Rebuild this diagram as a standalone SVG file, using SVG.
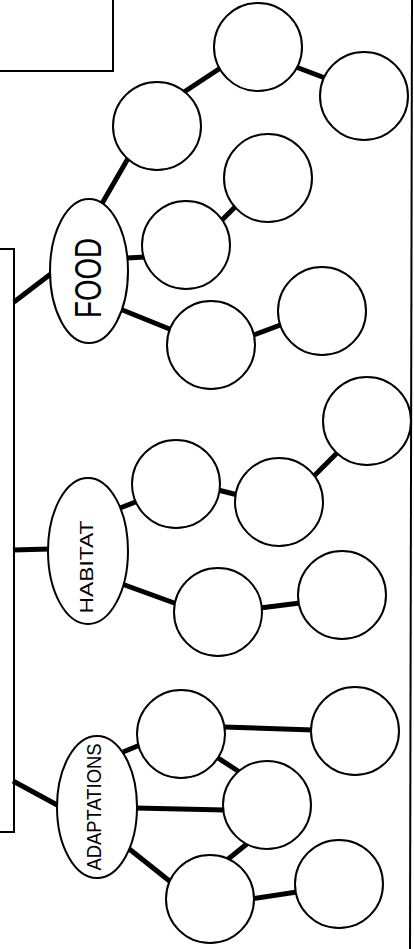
<svg xmlns="http://www.w3.org/2000/svg" width="414" height="949" viewBox="0 0 414 949">
<style>
.frame{fill:none;stroke:#000;stroke-width:2}
.c{fill:#fff;stroke:#000;stroke-width:2}
.e{fill:#fff;stroke:#000;stroke-width:2}
.lk{stroke:#000;stroke-width:5;stroke-linecap:butt;fill:none}
.t{font-family:"Liberation Sans",Arial,sans-serif;fill:#000;text-anchor:middle}
</style>
<rect width="414" height="949" fill="#fff"/>
<g id="frames">
<polyline class="frame" points="0,71 113,71 113,0"/>
<polyline class="frame" points="0,249 14,249 14,832 0,832"/>
<line class="frame" x1="412" y1="0" x2="410" y2="949"/>
</g>
<g id="connectors">
<line class="lk" x1="14" y1="302" x2="52" y2="273"/>
<line class="lk" x1="100" y1="207" x2="130" y2="155"/>
<line class="lk" x1="184" y1="92" x2="222" y2="67"/>
<line class="lk" x1="296" y1="67" x2="325" y2="78"/>
<line class="lk" x1="127" y1="258" x2="145" y2="257"/>
<line class="lk" x1="220" y1="222" x2="236" y2="206"/>
<line class="lk" x1="120" y1="309" x2="172" y2="330"/>
<line class="lk" x1="251" y1="336" x2="283" y2="324"/>
<line class="lk" x1="13" y1="550" x2="50" y2="549"/>
<line class="lk" x1="120" y1="508" x2="138" y2="501"/>
<line class="lk" x1="218" y1="490" x2="238" y2="495"/>
<line class="lk" x1="313" y1="477" x2="338" y2="452"/>
<line class="lk" x1="122" y1="584" x2="177" y2="604"/>
<line class="lk" x1="260" y1="608" x2="300" y2="603"/>
<line class="lk" x1="13" y1="781" x2="59" y2="806"/>
<line class="lk" x1="123" y1="752" x2="140" y2="745"/>
<line class="lk" x1="223" y1="727" x2="313" y2="730"/>
<line class="lk" x1="215" y1="756" x2="241" y2="773"/>
<line class="lk" x1="135" y1="808" x2="225" y2="810"/>
<line class="lk" x1="248" y1="843" x2="227" y2="860"/>
<line class="lk" x1="128" y1="848" x2="172" y2="883"/>
<line class="lk" x1="251" y1="899" x2="297" y2="892"/>
</g>
<g id="food">
<ellipse class="e" cx="89" cy="271" rx="39" ry="72"/>
<text class="t" transform="translate(101,278) rotate(-90)" font-size="37" textLength="80" lengthAdjust="spacingAndGlyphs">FOOD</text>
</g>
<g id="habitat">
<ellipse class="e" cx="88" cy="551" rx="40" ry="73"/>
<text class="t" transform="translate(93,567) rotate(-90)" font-size="18" textLength="93" lengthAdjust="spacingAndGlyphs">HABITAT</text>
</g>
<g id="adaptations">
<ellipse class="e" cx="97" cy="807" rx="40" ry="71"/>
<text class="t" transform="translate(101,807) rotate(-90)" font-size="20" textLength="127" lengthAdjust="spacingAndGlyphs">ADAPTATIONS</text>
</g>
<g id="food-c1"><circle class="c" cx="157" cy="126" r="44"/></g>
<g id="food-c2"><circle class="c" cx="258" cy="47" r="44"/></g>
<g id="food-c3"><circle class="c" cx="364" cy="96" r="44"/></g>
<g id="food-c4"><circle class="c" cx="186" cy="245" r="44"/></g>
<g id="food-c5"><circle class="c" cx="268" cy="178" r="44"/></g>
<g id="food-c6"><circle class="c" cx="211" cy="345" r="44"/></g>
<g id="food-c7"><circle class="c" cx="322" cy="311" r="44"/></g>
<g id="habitat-c1"><circle class="c" cx="176" cy="484" r="44"/></g>
<g id="habitat-c2"><circle class="c" cx="279" cy="502" r="44"/></g>
<g id="habitat-c3"><circle class="c" cx="367" cy="421" r="44"/></g>
<g id="habitat-c4"><circle class="c" cx="218" cy="612" r="44"/></g>
<g id="habitat-c5"><circle class="c" cx="342" cy="595" r="44"/></g>
<g id="adapt-c1"><circle class="c" cx="181" cy="734" r="44"/></g>
<g id="adapt-c2"><circle class="c" cx="355" cy="731" r="44"/></g>
<g id="adapt-c3"><circle class="c" cx="267" cy="805" r="44"/></g>
<g id="adapt-c4"><circle class="c" cx="210" cy="899" r="44"/></g>
<g id="adapt-c5"><circle class="c" cx="339" cy="884" r="44"/></g>
</svg>
